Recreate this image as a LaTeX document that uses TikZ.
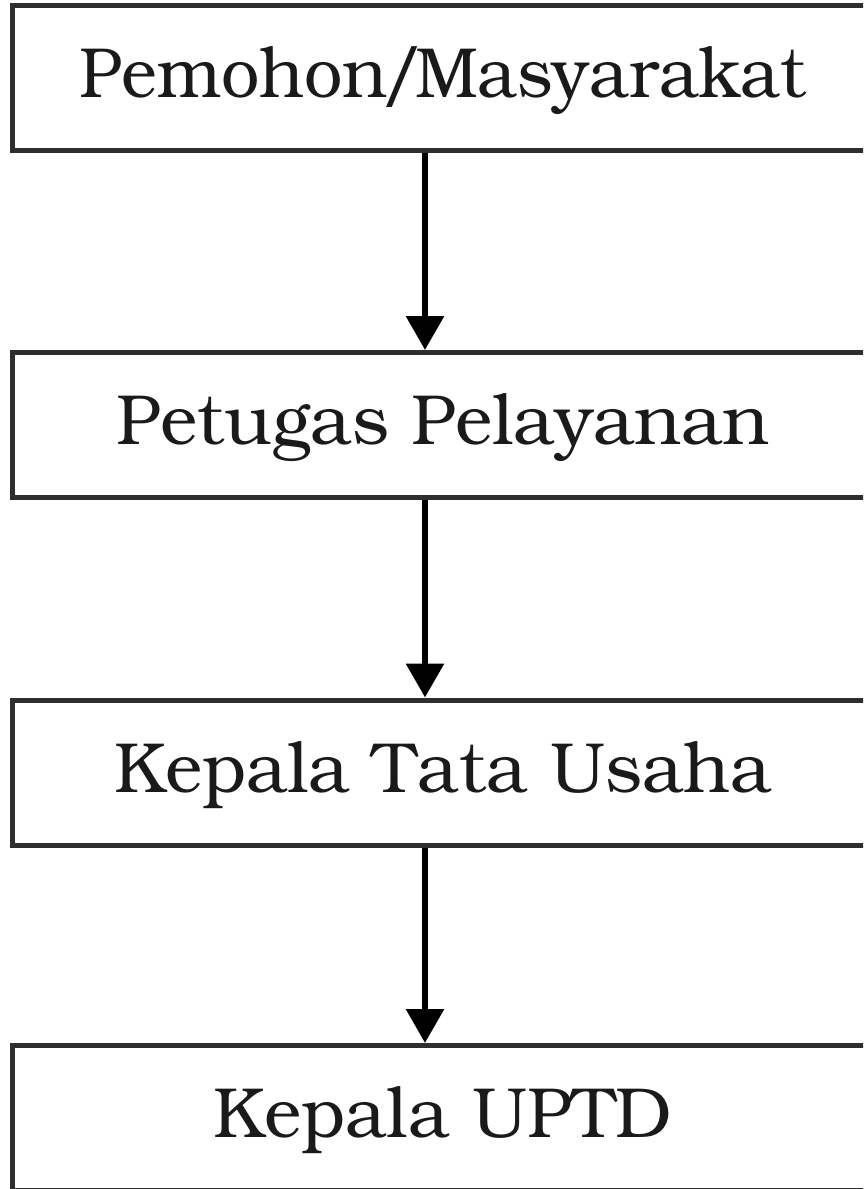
\documentclass[tikz,border=0pt]{standalone}
\usepackage[T1]{fontenc}
\usepackage{bookman}
\usepackage{graphicx}
\usetikzlibrary{arrows.meta}
\definecolor{edge}{HTML}{2E2E2E}
\definecolor{ink}{HTML}{1A1A1A}
\tikzset{
  stepbox/.style={draw=edge, line width=5pt, rectangle, inner sep=0pt,
    minimum width=862pt, minimum height=145pt, text=ink,
    text height=50pt, text depth=11pt,
    font=\fontsize{71}{82}\selectfont},
  flow/.style={draw=black, line width=6pt,
    -{Triangle[width=37pt,length=34pt]}}
}
\begin{document}
\begin{tikzpicture}[x=1pt,y=-1pt]
\useasboundingbox (0,0) rectangle (863,1189);
\clip (0,0) rectangle (863,1189);
\fill[white] (0,0) rectangle (863,1189);
\node[stepbox] (b1) at (443,77.5) {\scalebox{0.96}[1]{Pemohon\kern-7pt/\kern-7pt Masyarakat}};
\node[stepbox] (b2) at (443,425) {Petugas Pelayanan};
\node[stepbox] (b3) at (443,772.5) {Kepala Tata Usaha};
\node[stepbox] (b4) at (443,1118) {Kepala UPTD};
\draw[flow] ([xshift=-18pt]b1.south) -- ([xshift=-18pt]b2.north);
\draw[flow] ([xshift=-18pt]b2.south) -- ([xshift=-18pt]b3.north);
\draw[flow] ([xshift=-18pt]b3.south) -- ([xshift=-18pt]b4.north);
\end{tikzpicture}
\end{document}
